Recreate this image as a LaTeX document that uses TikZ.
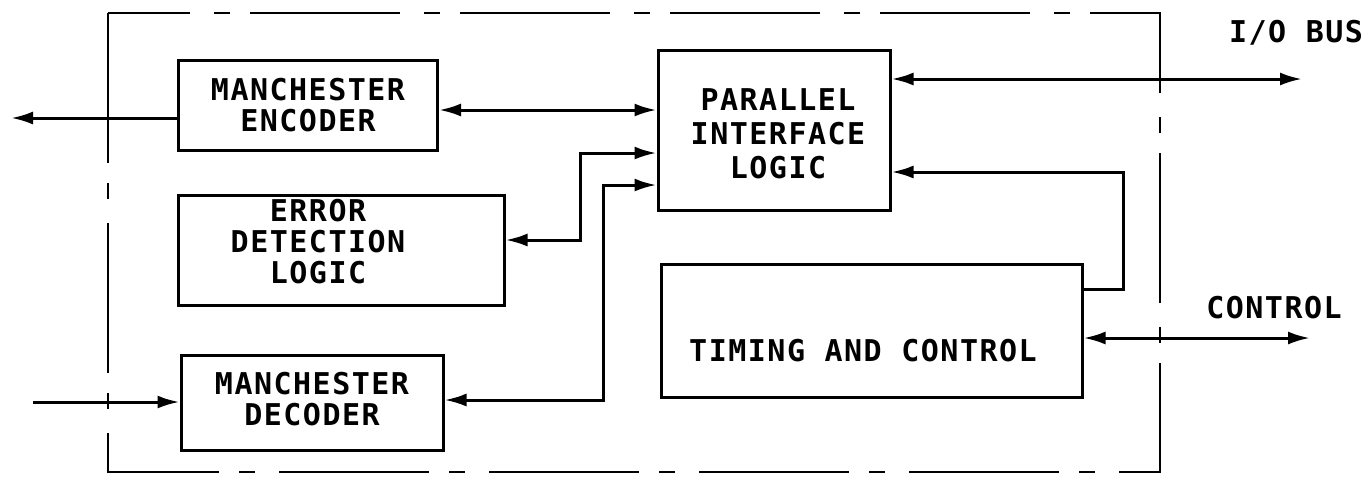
\documentclass[tikz,border=0pt]{standalone}
\usepackage{fontspec}
\newfontfamily\plotfont[LetterSpace=5]{DejaVu Sans Mono}
\usetikzlibrary{arrows.meta}
\begin{document}
\begin{tikzpicture}[x=0.5pt,y=-0.5pt,
  >={Latex[length=11pt,width=6.5pt]},
  box/.style={draw, line width=1.5pt, inner sep=0pt},
  txt/.style={font=\plotfont\bfseries\fontsize{15}{15.5}\selectfont, align=center, inner sep=0pt},
  conn/.style={line width=1.5pt},
  frame/.style={line width=1.1pt, dash pattern=on 75pt off 10pt on 8pt off 12pt}]
\useasboundingbox (0,0) rectangle (1370,478);

% outer dashed frame
\draw[frame] (108,13) rectangle (1160,472);

% blocks
\node[box, minimum width=129.5pt, minimum height=45pt,
  label={[txt]center:MANCHESTER\\ENCODER}] (enc) at (308,105) {};
\node[box, minimum width=163pt, minimum height=55pt,
  label={[txt, xshift=-11.5pt, yshift=4pt]center:ERROR\\DETECTION\\LOGIC}] (err) at (341,250) {};
\node[box, minimum width=131pt, minimum height=47.5pt,
  label={[txt, yshift=1.5pt]center:MANCHESTER\\DECODER}] (dec) at (312,402.5) {};
\node[box, minimum width=116pt, minimum height=80pt,
  label={[txt, xshift=2pt, yshift=-2pt, font=\plotfont\bfseries\fontsize{15}{17}\selectfont]center:PARALLEL\\INTERFACE\\LOGIC}] (pil) at (774,130) {};
\node[box, minimum width=210.5pt, minimum height=66.5pt,
  label={[txt, xshift=-4.25pt, yshift=-10pt]center:TIMING AND CONTROL}] (tim) at (871.5,330.5) {};

% outside labels
\node[txt] (iolbl) at (1296,33) {I/O BUS};
\node[txt] (ctllbl) at (1274,308) {CONTROL};

% helper coordinates
\coordinate (encout) at (11,118);
\coordinate (decin) at (33,402);
\coordinate (yenc) at (0,110);
\coordinate (e1) at (580,240);
\coordinate (ye2) at (0,153);
\coordinate (d1) at (603,400);
\coordinate (yd2) at (0,185);
\coordinate (iobus) at (1302,79);
\coordinate (t0) at (0,289);
\coordinate (t1) at (1123,289);
\coordinate (yt2) at (0,172);
\coordinate (ctl) at (1310,338);

% connectors
\draw[conn,->] (enc.west |- encout) -- (encout);
\draw[conn,->] (decin) -- (dec.west |- decin);
\draw[conn,<->] (enc.east |- yenc) -- (pil.west |- yenc);
\draw[conn,<->] (err.east |- e1) -- (e1) |- (pil.west |- ye2);
\draw[conn,<->] (dec.east |- d1) -- (d1) |- (pil.west |- yd2);
\draw[conn,<->] (pil.east |- iobus) -- (iobus);
\draw[conn,->] (tim.east |- t0) -- (t1) |- (pil.east |- yt2);
\draw[conn,<->] (tim.east |- ctl) -- (ctl);
\end{tikzpicture}
\end{document}
